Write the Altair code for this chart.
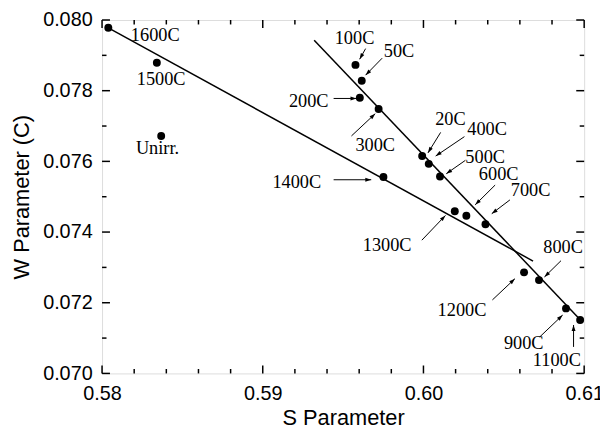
import math
import altair as alt
import pandas as pd

# ---- data ----
pt_label = ["1600C", "1500C", "Unirr.", "100C", "50C", "200C", "300C", "20C", "400C",
            "500C", "1400C", "1300C", "600C", "700C", "1200C", "800C", "900C", "1100C"]
pt_s = [0.58039, 0.58341, 0.58368, 0.59577, 0.59616, 0.59604, 0.59721, 0.59992, 0.60033,
        0.60103, 0.59751, 0.60195, 0.60267, 0.60386, 0.60626, 0.60719, 0.60887, 0.60975]
pt_w = [0.07978, 0.07879, 0.07672, 0.07873, 0.07828, 0.07780, 0.07748, 0.07615, 0.07593,
        0.07557, 0.07556, 0.07459, 0.07446, 0.07422, 0.07286, 0.07264, 0.07184, 0.07151]

txt_s = [0.58331, 0.58368, 0.58345, 0.59571, 0.59848, 0.59286, 0.59700, 0.60168, 0.60396,
         0.60384, 0.59212, 0.59774, 0.60468, 0.60667, 0.60240, 0.60869, 0.60624, 0.60830]
txt_w = [0.07957, 0.07832, 0.07638, 0.07948, 0.07911, 0.07771, 0.07647, 0.07720, 0.07691,
         0.07612, 0.07542, 0.07363, 0.07563, 0.07519, 0.07179, 0.07358, 0.07086, 0.07037]

arr_label = ["100C", "50C", "200C", "300C", "20C", "400C", "500C", "1400C", "1300C",
             "600C", "700C", "1200C", "800C", "900C", "1100C"]
arr_s1 = [0.59640, 0.59743, 0.59441, 0.59552, 0.60107, 0.60255, 0.60261, 0.59441, 0.59990,
          0.60446, 0.60538, 0.60429, 0.60856, 0.60723, 0.60934]
arr_w1 = [0.07919, 0.07892, 0.07778, 0.07672, 0.07682, 0.07670, 0.07603, 0.07548, 0.07377,
          0.07533, 0.07491, 0.07208, 0.07319, 0.07103, 0.07075]
arr_s2 = [0.59603, 0.59640, 0.59583, 0.59700, 0.60028, 0.60076, 0.60142, 0.59675, 0.60137,
          0.60322, 0.60425, 0.60569, 0.60753, 0.60866, 0.60934]
arr_w2 = [0.07889, 0.07844, 0.07778, 0.07735, 0.07624, 0.07615, 0.07565, 0.07548, 0.07447,
          0.07477, 0.07452, 0.07268, 0.07273, 0.07165, 0.07137]

line1_s = [0.58039, 0.60682]
line1_w = [0.07978, 0.07318]
line2_s = [0.59320, 0.60980]
line2_w = [0.07943, 0.07150]

x_major = [0.58, 0.59, 0.60, 0.61]
x_minor = [0.582, 0.584, 0.586, 0.588, 0.592, 0.594, 0.596, 0.598,
           0.602, 0.604, 0.606, 0.608]
y_major = [0.070, 0.072, 0.074, 0.076, 0.078, 0.080]
y_minor = [0.071, 0.073, 0.075, 0.077, 0.079]

# ---- layout ----
W, H = 487, 357
XDOM = [0.58, 0.61]
YDOM = [0.070, 0.080]
kx = W / (XDOM[1] - XDOM[0])
ky = H / (YDOM[1] - YDOM[0])

xs = alt.Scale(domain=XDOM, nice=False, zero=False)
ys = alt.Scale(domain=YDOM, nice=False, zero=False)

pts = pd.DataFrame({"s": pt_s, "w": pt_w, "label": pt_label})
txt = pd.DataFrame({"s": txt_s, "w": txt_w, "label": pt_label})
angles = []
for a, b, c, d in zip(arr_s1, arr_w1, arr_s2, arr_w2):
    dx = (c - a) * kx
    dy = -(d - b) * ky
    angles.append(math.degrees(math.atan2(dx, -dy)) % 360)
arr = pd.DataFrame({"s1": arr_s1, "w1": arr_w1, "s2": arr_s2, "w2": arr_w2,
                    "ang": angles, "label": arr_label})
l1 = pd.DataFrame({"s": line1_s, "w": line1_w, "g": "a"})
l2 = pd.DataFrame({"s": line2_s, "w": line2_w, "g": "b"})

# inward tick marks on all four sides (pixel lengths converted to data units)
tick_rows = []
for vals, length in ((x_major, 8), (x_minor, 4.5)):
    d = length / ky
    for v in vals:
        tick_rows.append({"ta": v, "tb": v, "tc": YDOM[0], "td": YDOM[0] + d})
        tick_rows.append({"ta": v, "tb": v, "tc": YDOM[1], "td": YDOM[1] - d})
for vals, length in ((y_major, 8), (y_minor, 4.5)):
    d = length / kx
    for v in vals:
        tick_rows.append({"ta": XDOM[0], "tb": XDOM[0] + d, "tc": v, "td": v})
        tick_rows.append({"ta": XDOM[1], "tb": XDOM[1] - d, "tc": v, "td": v})
tick_df = pd.DataFrame(tick_rows)

base_x = alt.X("s:Q", scale=xs, title="S Parameter",
               axis=alt.Axis(values=x_major, format=".2f", ticks=False, tickSize=0,
                             domain=False, grid=False, labelPadding=10, labelFlush=False,
                             labelFont="Liberation Sans", labelFontSize=20,
                             labelColor="black", titleFont="Liberation Sans",
                             titleFontSize=22, titleFontWeight="normal",
                             titleColor="black", titleX=W / 2, titleY=52,
                             titleBaseline="alphabetic", titleAlign="center"))
base_y = alt.Y("w:Q", scale=ys, title="W Parameter (C)",
               axis=alt.Axis(values=y_major, format=".3f", ticks=False, tickSize=0,
                             domain=False, grid=False, labelPadding=10, labelFlush=False,
                             labelFont="Liberation Sans", labelFontSize=20,
                             labelColor="black", titleFont="Liberation Sans",
                             titleFontSize=22, titleFontWeight="normal",
                             titleColor="black", titleX=-81, titleY=H / 2,
                             titleAngle=270, titleBaseline="middle",
                             titleAlign="center"))

points = alt.Chart(pts).mark_circle(size=64, color="black", opacity=1).encode(
    x=base_x, y=base_y)

lines = [alt.Chart(d).mark_line(color="black", strokeWidth=1.5).encode(
    x=alt.X("s:Q", scale=xs), y=alt.Y("w:Q", scale=ys)) for d in (l1, l2)]

labels = alt.Chart(txt).mark_text(font="Liberation Serif", fontSize=18.5, color="black",
                                  align="center", baseline="middle").encode(
    x=alt.X("s:Q", scale=xs), y=alt.Y("w:Q", scale=ys), text="label:N")

shafts = alt.Chart(arr).mark_rule(color="black", strokeWidth=1).encode(
    x=alt.X("s1:Q", scale=xs), y=alt.Y("w1:Q", scale=ys), x2="s2:Q", y2="w2:Q")

heads = alt.Chart(arr).mark_point(shape="M0,0L-0.33,1L0.33,1Z", size=144, filled=True,
                                  color="black", opacity=1, strokeWidth=0).encode(
    x=alt.X("s2:Q", scale=xs), y=alt.Y("w2:Q", scale=ys), angle=alt.Angle("ang:Q", scale=None))

ticks = alt.Chart(tick_df).mark_rule(color="black", strokeWidth=1.5, opacity=1).encode(
    x=alt.X("ta:Q", scale=xs), y=alt.Y("tc:Q", scale=ys), x2="tb:Q", y2="td:Q")

chart = alt.layer(points, *lines, shafts, heads, labels, ticks).properties(
    width=W, height=H,
    autosize=alt.AutoSizeParams(type="none"),
    padding={"left": 95, "top": 10, "right": 16, "bottom": 53},
).configure_view(stroke="black", strokeWidth=1.5).configure(background="white")

chart.save("out.html", embed_options={"renderer": "svg", "actions": False})
